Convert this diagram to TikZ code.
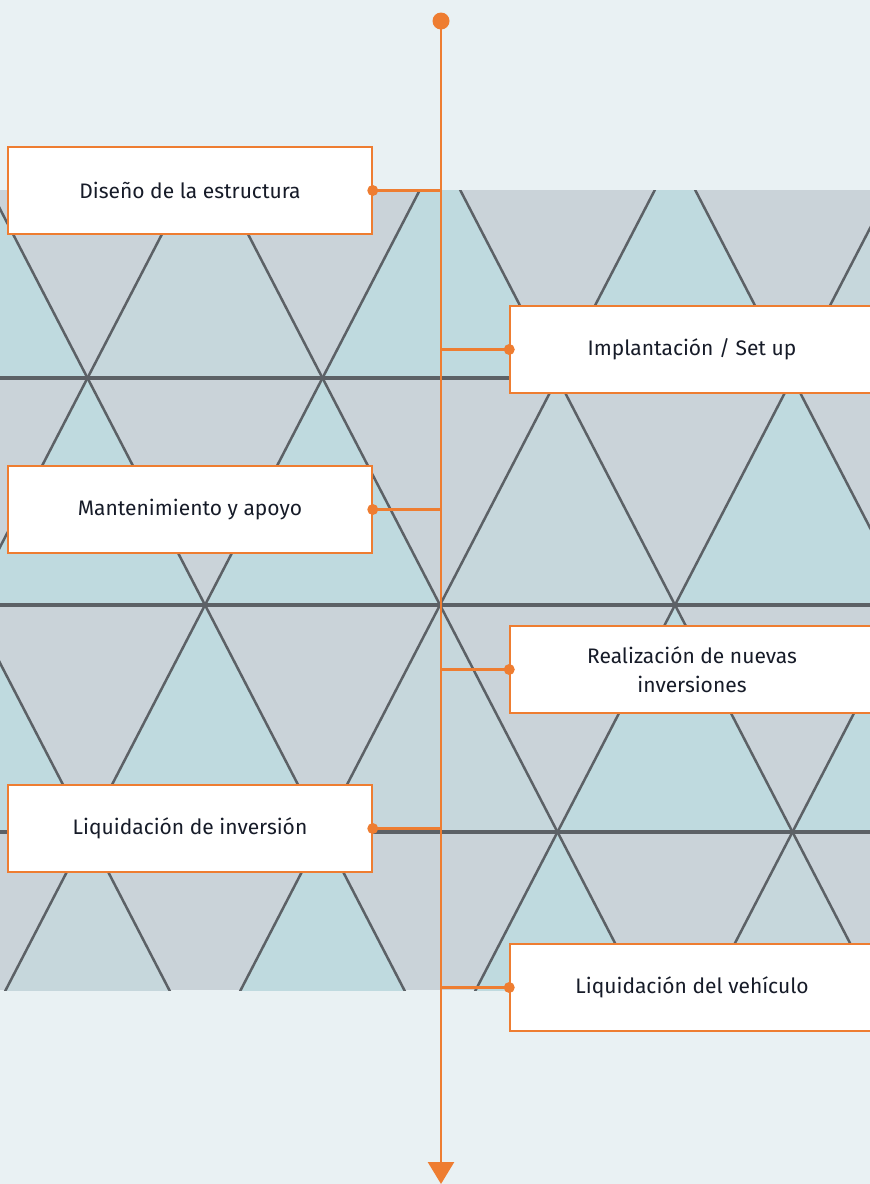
\documentclass[tikz,border=0pt]{standalone}
\usepackage{fontspec}
\setmainfont{Fira Sans}
\usetikzlibrary{arrows.meta}
\definecolor{bg}{HTML}{E9F1F3}
\definecolor{org}{HTML}{EE7D31}
\definecolor{txt}{HTML}{161B28}
\definecolor{triA}{HTML}{CAD3D9}
\definecolor{triB}{HTML}{BFDADF}
\definecolor{triC}{HTML}{C6D7DC}
\definecolor{seam}{HTML}{5C6166}
\tikzset{
  box/.style={draw=org, line width=1.5pt, fill=white, minimum width=364pt, minimum height=87pt, inner sep=0pt, align=center, text=txt, font=\fontsize{21}{29}\selectfont},
  conn/.style={draw=org, line width=2.5pt},
  dot/.style={fill=org},
}
\begin{document}
\begin{tikzpicture}[x=1pt,y=-1pt]
\useasboundingbox (0,0) rectangle (870,1184);
\fill[bg] (0,0) rectangle (870,1184);
% photo of triangles
\begin{scope}
\clip (0,190) rectangle (870,990);
\fill[triA] (0,190) rectangle (870,990);
\foreach \i in {0,...,3}{
  \pgfmathsetmacro\yt{151+227*\i}
  \pgfmathsetmacro\yb{\yt+227}
  \pgfmathsetmacro\off{ifthenelse(mod(\i,2)==0,205,87)}
  \foreach \k in {-1,...,4}{
    \pgfmathsetmacro\ax{\off+235*\k}
    \pgfmathtruncatemacro\c{mod(\i+\k+4,3)}
    \ifnum\c=0 \def\tc{triB}\else\ifnum\c=1 \def\tc{triC}\else\def\tc{triB}\fi\fi
    \fill[\tc] (\ax,\yt) -- (\ax-117.5,\yb) -- (\ax+117.5,\yb) -- cycle;
  }
}
\foreach \k in {-4,...,6}{
  \draw[seam, line width=2.5pt] (205+235*\k,151) -- (205+235*\k+470,1059);
  \draw[seam, line width=2.5pt] (205+235*\k,151) -- (205+235*\k-470,1059);
}
\foreach \y in {378,605,832}{
  \draw[seam, line width=3.5pt] (0,\y) -- (870,\y);
}
\end{scope}
% timeline
\coordinate (top) at (441,21);
\coordinate (bot) at (441,1184);
\draw[org, line width=2.5pt, -{Triangle[width=26pt,length=22pt]}] (top) -- (bot);
\fill[dot] (top) circle (8.5);
% boxes
\node[box] (b1) at (190,190.5) {Diseño de la estructura};
\node[box] (b2) at (692,349.5) {Implantación / Set up};
\node[box] (b3) at (190,509.5) {Mantenimiento y apoyo};
\node[box] (b4) at (692,669.5) {Realización de nuevas\\inversiones};
\node[box] (b5) at (190,828.5) {Liquidación de inversión};
\node[box] (b6) at (692,987.5) {Liquidación del vehículo};
\foreach \n in {b1,b3,b5}{
  \draw[conn] (\n.east) -- (\n.east -| top);
  \fill[dot] (\n.east) circle (5.5);
}
\foreach \n in {b2,b4,b6}{
  \draw[conn] (\n.west) -- (\n.west -| top);
  \fill[dot] (\n.west) circle (5.5);
}
\end{tikzpicture}
\end{document}
